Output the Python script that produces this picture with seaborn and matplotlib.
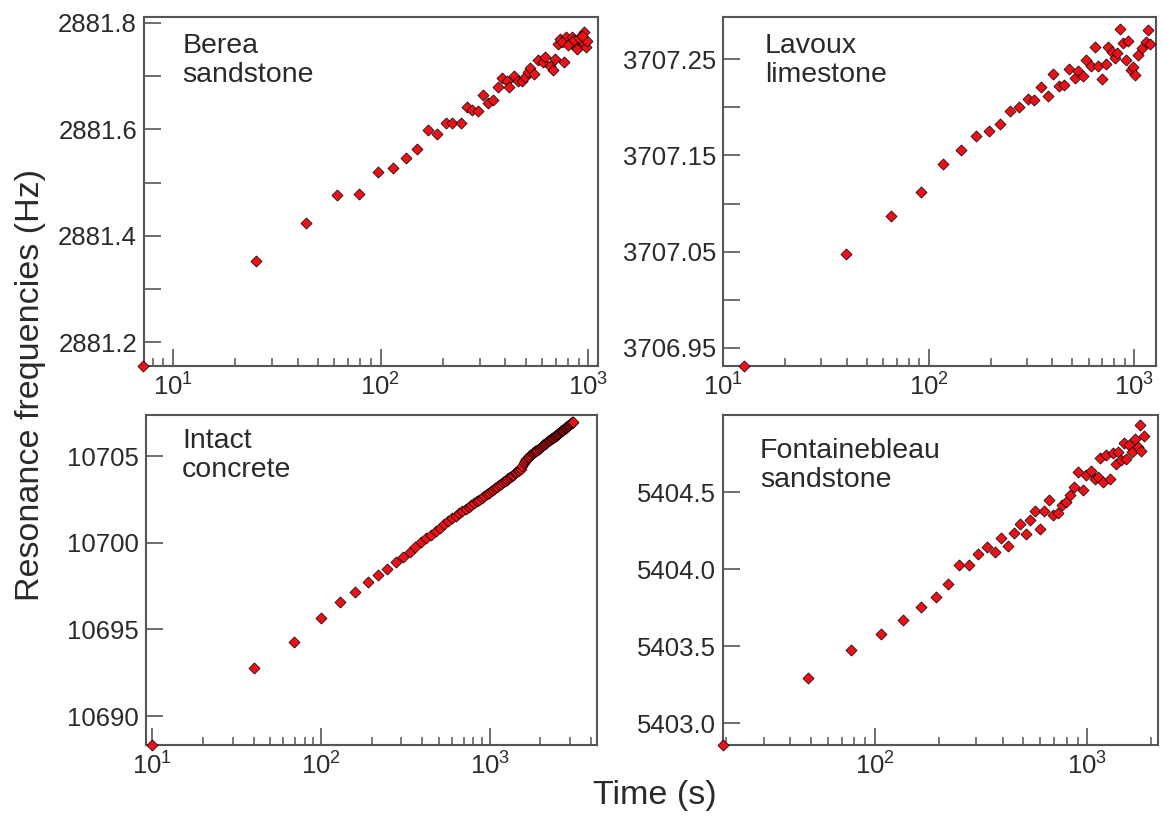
import numpy as np
import pandas as pd
import matplotlib
matplotlib.use("Agg")
import matplotlib.pyplot as plt
import seaborn as sns
from matplotlib.ticker import LogLocator, NullFormatter, FixedLocator, FormatStrFormatter, LogFormatterSciNotation

# ---------------- data ----------------
berea_time = [7.2, 25.2, 43.6, 61.5, 78.9, 97.1, 114.6, 132.6, 150.2, 169, 188, 206, 222, 243,
              260, 277, 296, 313, 331, 350, 367, 384, 406, 418, 442, 462, 480, 498, 512, 527,
              547, 572, 605, 623, 654, 679, 692, 714, 736, 765, 779, 824, 840, 872, 888, 922,
              957, 975, 994, 750, 800, 860, 905, 940]
berea_freq = [2881.156, 2881.353, 2881.4235, 2881.476, 2881.479, 2881.520, 2881.527, 2881.5455,
              2881.5625, 2881.599, 2881.592, 2881.6125, 2881.6125, 2881.611, 2881.642, 2881.6355,
              2881.634, 2881.665, 2881.650, 2881.6555, 2881.679, 2881.6966, 2881.690, 2881.679,
              2881.6997, 2881.690, 2881.6916, 2881.699, 2881.707, 2881.7146, 2881.704, 2881.731,
              2881.726, 2881.735, 2881.7196, 2881.7116, 2881.733, 2881.760, 2881.7695, 2881.726,
              2881.7725, 2881.763, 2881.7725, 2881.757, 2881.751, 2881.766, 2881.782, 2881.754,
              2881.766, 2881.764, 2881.758, 2881.768, 2881.771, 2881.775]

lavoux_time = [12.7, 39.5, 65.8, 91.3, 118, 144, 170, 196, 223, 249, 275, 303, 326, 351, 382,
               403, 432, 455, 483, 512, 534, 563, 585, 618, 642, 666, 700, 725, 746, 778, 804,
               828, 853, 881, 907, 930, 959, 988, 1009, 1043, 1087, 1134, 1167, 1197]
lavoux_freq = [3706.931, 3707.048, 3707.0873, 3707.1117, 3707.1413, 3707.1552, 3707.1706,
               3707.175, 3707.183, 3707.196, 3707.2005, 3707.209, 3707.208, 3707.2215, 3707.212,
               3707.235, 3707.222, 3707.2235, 3707.240, 3707.231, 3707.238, 3707.233, 3707.249,
               3707.243, 3707.263, 3707.243, 3707.229, 3707.245, 3707.263, 3707.258, 3707.251,
               3707.257, 3707.281, 3707.267, 3707.249, 3707.269, 3707.239, 3707.242, 3707.234,
               3707.254, 3707.262, 3707.268, 3707.280, 3707.266]

concrete_time = [10, 40.3, 69.5, 100, 130, 160, 190, 219, 248, 277, 307, 336,
                 362, 391, 420, 450, 480, 510, 540, 570, 600, 630, 660, 690, 720, 750, 780,
                 810, 840, 870, 900, 930, 960, 990, 1020, 1050, 1080, 1110, 1140, 1170, 1200,
                 1230, 1260, 1290, 1320, 1350, 1380, 1410, 1440, 1470, 1500, 1530, 1560, 1590,
                 1620, 1650, 1680, 1710, 1740, 1770, 1800, 1830, 1860, 1890, 1920, 1950, 1980,
                 2010, 2040, 2070, 2100, 2130, 2160, 2190, 2220, 2250, 2280, 2310, 2340, 2370,
                 2400, 2430, 2460, 2490, 2520, 2550, 2580, 2610, 2640, 2670, 2700, 2730, 2760,
                 2790, 2820, 2850, 2880, 2910, 2940, 2970, 3000, 3030, 3060, 3090, 3120]
concrete_freq = [10688.33, 10692.80, 10694.25, 10695.67, 10696.59, 10697.16, 10697.74, 10698.12,
                 10698.51, 10698.89, 10699.18, 10699.46,
                 10699.78, 10700.04, 10700.26, 10700.48, 10700.68, 10700.88, 10701.06, 10701.25,
                 10701.41, 10701.56, 10701.70, 10701.84, 10701.98, 10702.09, 10702.20, 10702.31,
                 10702.41, 10702.50, 10702.60, 10702.70, 10702.80, 10702.89, 10702.98, 10703.07,
                 10703.16, 10703.24, 10703.33, 10703.41, 10703.49, 10703.57, 10703.65, 10703.73,
                 10703.80, 10703.87, 10703.94, 10704.01, 10704.08, 10704.15, 10704.21, 10704.27,
                 10704.45, 10704.62, 10704.74, 10704.82, 10704.90, 10704.97, 10705.05, 10705.12,
                 10705.18, 10705.23, 10705.28, 10705.33, 10705.38, 10705.43, 10705.48, 10705.53,
                 10705.58, 10705.63, 10705.68, 10705.73, 10705.78, 10705.83, 10705.87, 10705.91,
                 10705.95, 10705.99, 10706.03, 10706.07, 10706.11, 10706.15, 10706.19, 10706.23,
                 10706.27, 10706.31, 10706.35, 10706.39, 10706.43, 10706.47, 10706.51, 10706.54,
                 10706.57, 10706.61, 10706.65, 10706.68, 10706.72, 10706.75, 10706.79, 10706.83,
                 10706.86, 10706.89, 10706.92, 10706.95, 10706.98]

fontainebleau_time = [19.3, 48.3, 77.4, 107, 135.5, 164.6, 193, 222, 248, 278, 307, 336, 369,
                      392, 425, 451, 483, 514, 539, 568, 599, 624, 660, 687, 724, 763, 794, 827,
                      868, 904, 953, 988, 1042, 1085, 1120, 1152, 1189, 1224, 1275, 1327, 1365,
                      1399, 1439, 1480, 1528, 1578, 1624, 1671, 1726, 1762, 1796, 1855]
fontainebleau_freq = [5402.86, 5403.292, 5403.475, 5403.580, 5403.673, 5403.755, 5403.819,
                      5403.905, 5404.028, 5404.028, 5404.099, 5404.146, 5404.11, 5404.20,
                      5404.153, 5404.232, 5404.29, 5404.226, 5404.318, 5404.379, 5404.258,
                      5404.379, 5404.448, 5404.351, 5404.362, 5404.415, 5404.437, 5404.48,
                      5404.534, 5404.63, 5404.512, 5404.613, 5404.635, 5404.583, 5404.598,
                      5404.721, 5404.566, 5404.739, 5404.583, 5404.753, 5404.684, 5404.76,
                      5404.706, 5404.82, 5404.717, 5404.803, 5404.76, 5404.844, 5404.793,
                      5404.932, 5404.764, 5404.866]

panel_labels = ["Berea\nsandstone", "Lavoux\nlimestone", "Intact\nconcrete",
                "Fontainebleau\nsandstone"]
berea_yticks = [2881.2, 2881.4, 2881.6, 2881.8]
lavoux_yticks = [3706.95, 3707.05, 3707.15, 3707.25]
concrete_yticks = [10690, 10695, 10700, 10705]
fontainebleau_yticks = [5403.0, 5403.5, 5404.0, 5404.5]
x_label = "Time (s)"
y_label = "Resonance frequencies (Hz)"

# ---------------- style ----------------
sns.set_theme(style="white")
plt.rcParams["font.family"] = ["Liberation Sans", "DejaVu Sans"]
plt.rcParams["mathtext.fontset"] = "custom"
plt.rcParams["mathtext.rm"] = "Liberation Sans"
plt.rcParams["mathtext.it"] = "Liberation Sans:italic"
plt.rcParams["mathtext.bf"] = "Liberation Sans:bold"

RED = "#ec1118"
SPINE = "#555555"
TXT = "#2a2a2a"
W, H = 1163, 818

fig = plt.figure(figsize=(W / 100, H / 100), dpi=100)


def box(l, r, t, b):
    return [l / W, 1 - b / H, (r - l) / W, (b - t) / H]


panels = [
    dict(t=berea_time, f=berea_freq, label=panel_labels[0], yt=berea_yticks,
         yminor=[2881.3, 2881.5, 2881.7], fmt="%.1f",
         xlim=(7.25, 1117), ylim=(2881.1555, 2881.811),
         pos=box(144, 598, 17, 366), txt=(0.084, 0.955)),
    dict(t=lavoux_time, f=lavoux_freq, label=panel_labels[1], yt=lavoux_yticks,
         yminor=[3707.0, 3707.1, 3707.2], fmt="%.2f",
         xlim=(10, 1275), ylim=(3706.931, 3707.294),
         pos=box(723, 1156, 17, 366), txt=(0.097, 0.955)),
    dict(t=concrete_time, f=concrete_freq, label=panel_labels[2], yt=concrete_yticks,
         yminor=[], fmt="%d",
         xlim=(9.2, 4325), ylim=(10688.33, 10707.38),
         pos=box(146, 597, 415, 745), txt=(0.08, 0.96)),
    dict(t=fontainebleau_time, f=fontainebleau_freq, label=panel_labels[3], yt=fontainebleau_yticks,
         yminor=[], fmt="%.1f",
         xlim=(19.3, 2150), ylim=(5402.86, 5405.0),
         pos=box(723, 1158, 415, 745), txt=(0.085, 0.93)),
]

for p in panels:
    ax = fig.add_axes(p["pos"])
    df = pd.DataFrame({"time": p["t"], "freq": p["f"]})
    sns.scatterplot(data=df, x="time", y="freq", ax=ax, marker="D", s=32,
                    color=RED, edgecolor="black", linewidth=0.5, legend=False,
                    zorder=3, clip_on=False)
    ax.set_xscale("log")
    ax.set_xlim(*p["xlim"])
    ax.set_ylim(*p["ylim"])
    ax.set_xlabel("")
    ax.set_ylabel("")

    ax.xaxis.set_major_locator(LogLocator(base=10))
    ax.xaxis.set_major_formatter(LogFormatterSciNotation(base=10))
    ax.xaxis.set_minor_locator(LogLocator(base=10, subs=np.arange(2, 10), numticks=20))
    ax.xaxis.set_minor_formatter(NullFormatter())

    ax.yaxis.set_major_locator(FixedLocator(p["yt"]))
    ax.yaxis.set_major_formatter(FormatStrFormatter(p["fmt"]))
    ax.yaxis.set_minor_locator(FixedLocator(p["yminor"]))

    ax.tick_params(axis="x", which="major", direction="in", length=12, width=1.2,
                   color=SPINE, labelsize=18.5, labelcolor=TXT, pad=5, top=False, bottom=True)
    ax.tick_params(axis="x", which="minor", direction="in", length=6, width=1.1,
                   color=SPINE, top=False, bottom=True)
    ax.tick_params(axis="y", which="both", direction="in", length=12.5, width=1.2,
                   color=SPINE, labelsize=18.5, labelcolor=TXT, pad=5, left=True, right=False)

    for s in ax.spines.values():
        s.set_color(SPINE)
        s.set_linewidth(1.5)

    ax.text(p["txt"][0], p["txt"][1], p["label"], transform=ax.transAxes,
            ha="left", va="top", fontsize=20.5, color=TXT, linespacing=1.15)

fig.text(0.026, 0.529, y_label, rotation=90, ha="center", va="center",
         fontsize=24.5, color=TXT)
fig.text(0.563, 0.028, x_label, ha="center", va="center", fontsize=24.5, color=TXT)

fig.savefig("out.png", dpi=100)
